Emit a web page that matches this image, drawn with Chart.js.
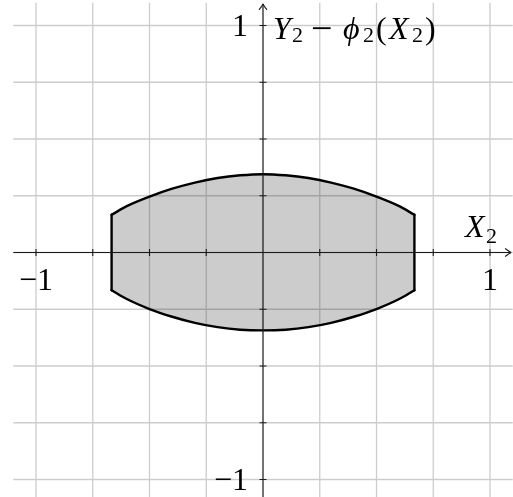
<!DOCTYPE html>
<html>
<head>
<meta charset="utf-8">
<script src="https://cdn.jsdelivr.net/npm/chart.js@4"></script>
<style>
html,body{margin:0;padding:0;background:#fff;overflow:hidden;}
canvas{position:absolute;left:0;top:0;}
</style>
</head>
<body>
<canvas id="chart" width="530" height="520"></canvas>
<script>
// region: upper and lower boundary, vertical sides at the ends
const xBound = [-0.667, -0.6, -0.5, -0.4, -0.3, -0.2, -0.1, 0, 0.1, 0.2, 0.3, 0.4, 0.5, 0.6, 0.667];
const yUpper = [0.166, 0.204, 0.246, 0.281, 0.308, 0.328, 0.340, 0.345, 0.340, 0.328, 0.308, 0.281, 0.246, 0.204, 0.166];
const yLower = [-0.166, -0.205, -0.249, -0.283, -0.310, -0.329, -0.340, -0.343, -0.340, -0.329, -0.310, -0.283, -0.249, -0.205, -0.166];

const axisMin = -1.1, axisMax = 1.1;
const gridStep = 0.25;
const xTickVals = [-1, 1];
const xTickLabels = ["\u22121", "1"];
const yTickVals = [1, -1];
const yTickLabels = ["1", "\u22121"];

const FONT = '"Liberation Serif", "DejaVu Serif", serif';

const pts = (xs, ys) => xs.map((x, i) => ({x, y: ys[i]}));
const last = xBound.length - 1;

// small TeX-ish label writer: [text, style, dx, dy]
function mathText(ctx, parts, x, base){
  parts.forEach(([t, st, dx, dy]) => {
    const size = st === "sub" ? 22 : st === "op" ? 38 : 32;
    ctx.font = (st === "it" ? "italic " : "") + size + "px " + FONT;
    ctx.textAlign = "left";
    ctx.textBaseline = "alphabetic";
    ctx.fillText(t, x + dx, base + (dy || 0));
  });
}

function arrow(ctx, tx, ty, dir){
  ctx.beginPath();
  if (dir === "right"){
    ctx.moveTo(tx - 6, ty - 4); ctx.quadraticCurveTo(tx - 2, ty - 1, tx, ty);
    ctx.moveTo(tx - 6, ty + 4); ctx.quadraticCurveTo(tx - 2, ty + 1, tx, ty);
  } else {
    ctx.moveTo(tx - 4, ty + 6); ctx.quadraticCurveTo(tx - 1, ty + 2, tx, ty);
    ctx.moveTo(tx + 4, ty + 6); ctx.quadraticCurveTo(tx + 1, ty + 2, tx, ty);
  }
  ctx.stroke();
}

// grid (see-through, above the gray region) and axes through the origin
const axesPlugin = {
  id: "axes",
  afterDraw(chart){
    const {ctx, chartArea: a, scales: {x, y}} = chart;
    const x0 = x.getPixelForValue(0), y0 = y.getPixelForValue(0);
    ctx.save();

    ctx.strokeStyle = "rgba(0,0,0,0.2)";
    ctx.lineWidth = 1.3;
    ctx.beginPath();
    x.ticks.forEach(t => {
      const p = x.getPixelForValue(t.value);
      ctx.moveTo(p, a.top); ctx.lineTo(p, a.bottom);
    });
    y.ticks.forEach(t => {
      const p = y.getPixelForValue(t.value);
      ctx.moveTo(a.left, p); ctx.lineTo(a.right, p);
    });
    ctx.stroke();

    ctx.strokeStyle = "#1a1a1a";
    ctx.fillStyle = "#000";
    ctx.lineWidth = 1.1;
    const xr = x.getPixelForValue(1.093), yt = y.getPixelForValue(1.095);
    ctx.beginPath();
    ctx.moveTo(x.getPixelForValue(axisMin), y0); ctx.lineTo(xr, y0);
    ctx.moveTo(x0, y.getPixelForValue(axisMin)); ctx.lineTo(x0, yt);
    ctx.stroke();
    arrow(ctx, xr, y0, "right");
    arrow(ctx, x0, yt, "up");

    ctx.beginPath();
    x.ticks.forEach(t => {
      if (t.value === 0) return;
      const p = x.getPixelForValue(t.value);
      ctx.moveTo(p, y0 - 3.5); ctx.lineTo(p, y0 + 3.5);
    });
    y.ticks.forEach(t => {
      if (t.value === 0) return;
      const p = y.getPixelForValue(t.value);
      ctx.moveTo(x0 - 3.5, p); ctx.lineTo(x0 + 3.5, p);
    });
    ctx.stroke();

    ctx.font = "32px " + FONT;
    ctx.textBaseline = "alphabetic";
    ctx.textAlign = "center";
    xTickVals.forEach((v, i) => ctx.fillText(xTickLabels[i], x.getPixelForValue(v), y0 + 37.5));
    ctx.textAlign = "right";
    yTickVals.forEach((v, i) => ctx.fillText(yTickLabels[i], x0 - 15, y.getPixelForValue(v) + 10.5));

    mathText(ctx, [["X", "it", 0], ["2", "sub", 21, 6]], x.getPixelForValue(1) - 25, y0 - 16);
    mathText(ctx, [
      ["Y", "it", 0], ["2", "sub", 19, 3],
      ["\u2212", "op", 38, 2],
      ["\u03D5", "it", 70], ["2", "sub", 90, 3],
      ["(", "rm", 103],
      ["X", "it", 116], ["2", "sub", 139, 3],
      [")", "rm", 152]
    ], x0 + 10, y.getPixelForValue(1) + 13);
    ctx.restore();
  }
};

const lineStyle = {
  showLine: true, pointRadius: 0, borderColor: "#000", borderWidth: 2.4,
  borderCapStyle: "round", borderJoinStyle: "round"
};

const hiddenGrid = {display: false, drawTicks: false};

new Chart(document.getElementById("chart"), {
  type: "scatter",
  data: {
    datasets: [
      {...lineStyle, data: pts(xBound, yUpper), cubicInterpolationMode: "monotone",
        fill: "+1", backgroundColor: "#cccccc"},
      {...lineStyle, data: pts(xBound, yLower), cubicInterpolationMode: "monotone", fill: false},
      {...lineStyle, data: [{x: xBound[0], y: yLower[0]}, {x: xBound[0], y: yUpper[0]}], fill: false},
      {...lineStyle, data: [{x: xBound[last], y: yLower[last]}, {x: xBound[last], y: yUpper[last]}], fill: false}
    ]
  },
  options: {
    responsive: false,
    animation: false,
    layout: {padding: {left: 13.3, top: 2.8, right: 17.3, bottom: 17.8}},
    plugins: {legend: {display: false}, tooltip: {enabled: false}, filler: {drawTime: "beforeDatasetsDraw"}},
    scales: {
      x: {
        type: "linear", min: axisMin, max: axisMax,
        ticks: {stepSize: gridStep, includeBounds: false, display: false},
        grid: hiddenGrid,
        border: {display: false}
      },
      y: {
        type: "linear", min: axisMin, max: axisMax,
        ticks: {stepSize: gridStep, includeBounds: false, display: false},
        grid: hiddenGrid,
        border: {display: false}
      }
    }
  },
  plugins: [axesPlugin]
});
</script>
</body>
</html>
